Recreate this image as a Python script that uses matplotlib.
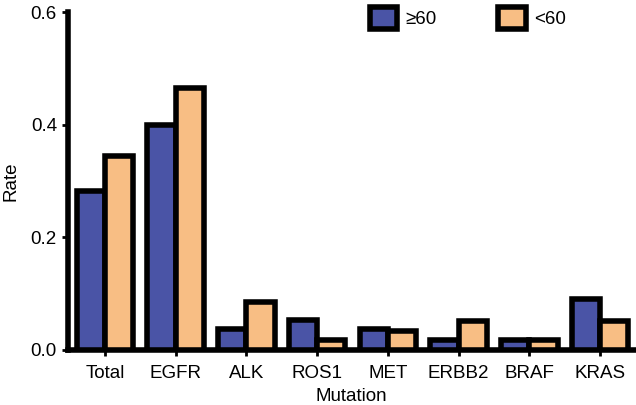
import numpy as np
import matplotlib.pyplot as plt

plt.rcParams['font.family'] = ['Liberation Sans', 'DejaVu Sans']

# 数据
mutations = ['Total', 'EGFR', 'ALK', 'ROS1', 'MET', 'ERBB2', 'BRAF', 'KRAS']
rate_ge60 = [0.282, 0.400, 0.037, 0.053, 0.037, 0.018, 0.018, 0.090]
rate_lt60 = [0.345, 0.466, 0.086, 0.017, 0.034, 0.051, 0.017, 0.052]
group_labels = ['≥60', '<60']
colors = ['#4A54A6', '#F8BE84']

x = np.arange(len(mutations))
w = 0.4

fig, ax = plt.subplots(figsize=(6.36, 4.05), dpi=100)
fig.subplots_adjust(left=0.107, right=0.997, top=0.97, bottom=0.136)

ax.bar(x - w / 2, rate_ge60, w, color=colors[0], edgecolor='black', linewidth=4,
       label=group_labels[0], zorder=3)
ax.bar(x + w / 2, rate_lt60, w, color=colors[1], edgecolor='black', linewidth=4,
       label=group_labels[1], zorder=3)

ax.set_xlim(-0.52, 7.48)
ax.set_ylim(0, 0.6)
ax.set_yticks([0, 0.2, 0.4, 0.6])
ax.set_yticklabels(['0.0', '0.2', '0.4', '0.6'])
ax.set_xticks(x)
ax.set_xticklabels(mutations)

for s in ['top', 'right']:
    ax.spines[s].set_visible(False)
for s in ['left', 'bottom']:
    ax.spines[s].set_linewidth(4)

ax.tick_params(axis='both', labelsize=13.5, width=2, length=4, color='black')
ax.tick_params(axis='x', pad=7)
ax.tick_params(axis='y', pad=4)

ax.set_xlabel('Mutation', fontsize=13.5, labelpad=4)
ax.set_ylabel('Rate', fontsize=13.5, labelpad=8)

leg = ax.legend(loc='upper left', bbox_to_anchor=(0.503, 1.065), ncol=2, frameon=False,
                fontsize=13.5, handlelength=1.45, handleheight=1.45, columnspacing=3.3,
                handletextpad=0.45)
for h in leg.legend_handles:
    h.set_linewidth(4)

plt.savefig('out.png', dpi=100)
